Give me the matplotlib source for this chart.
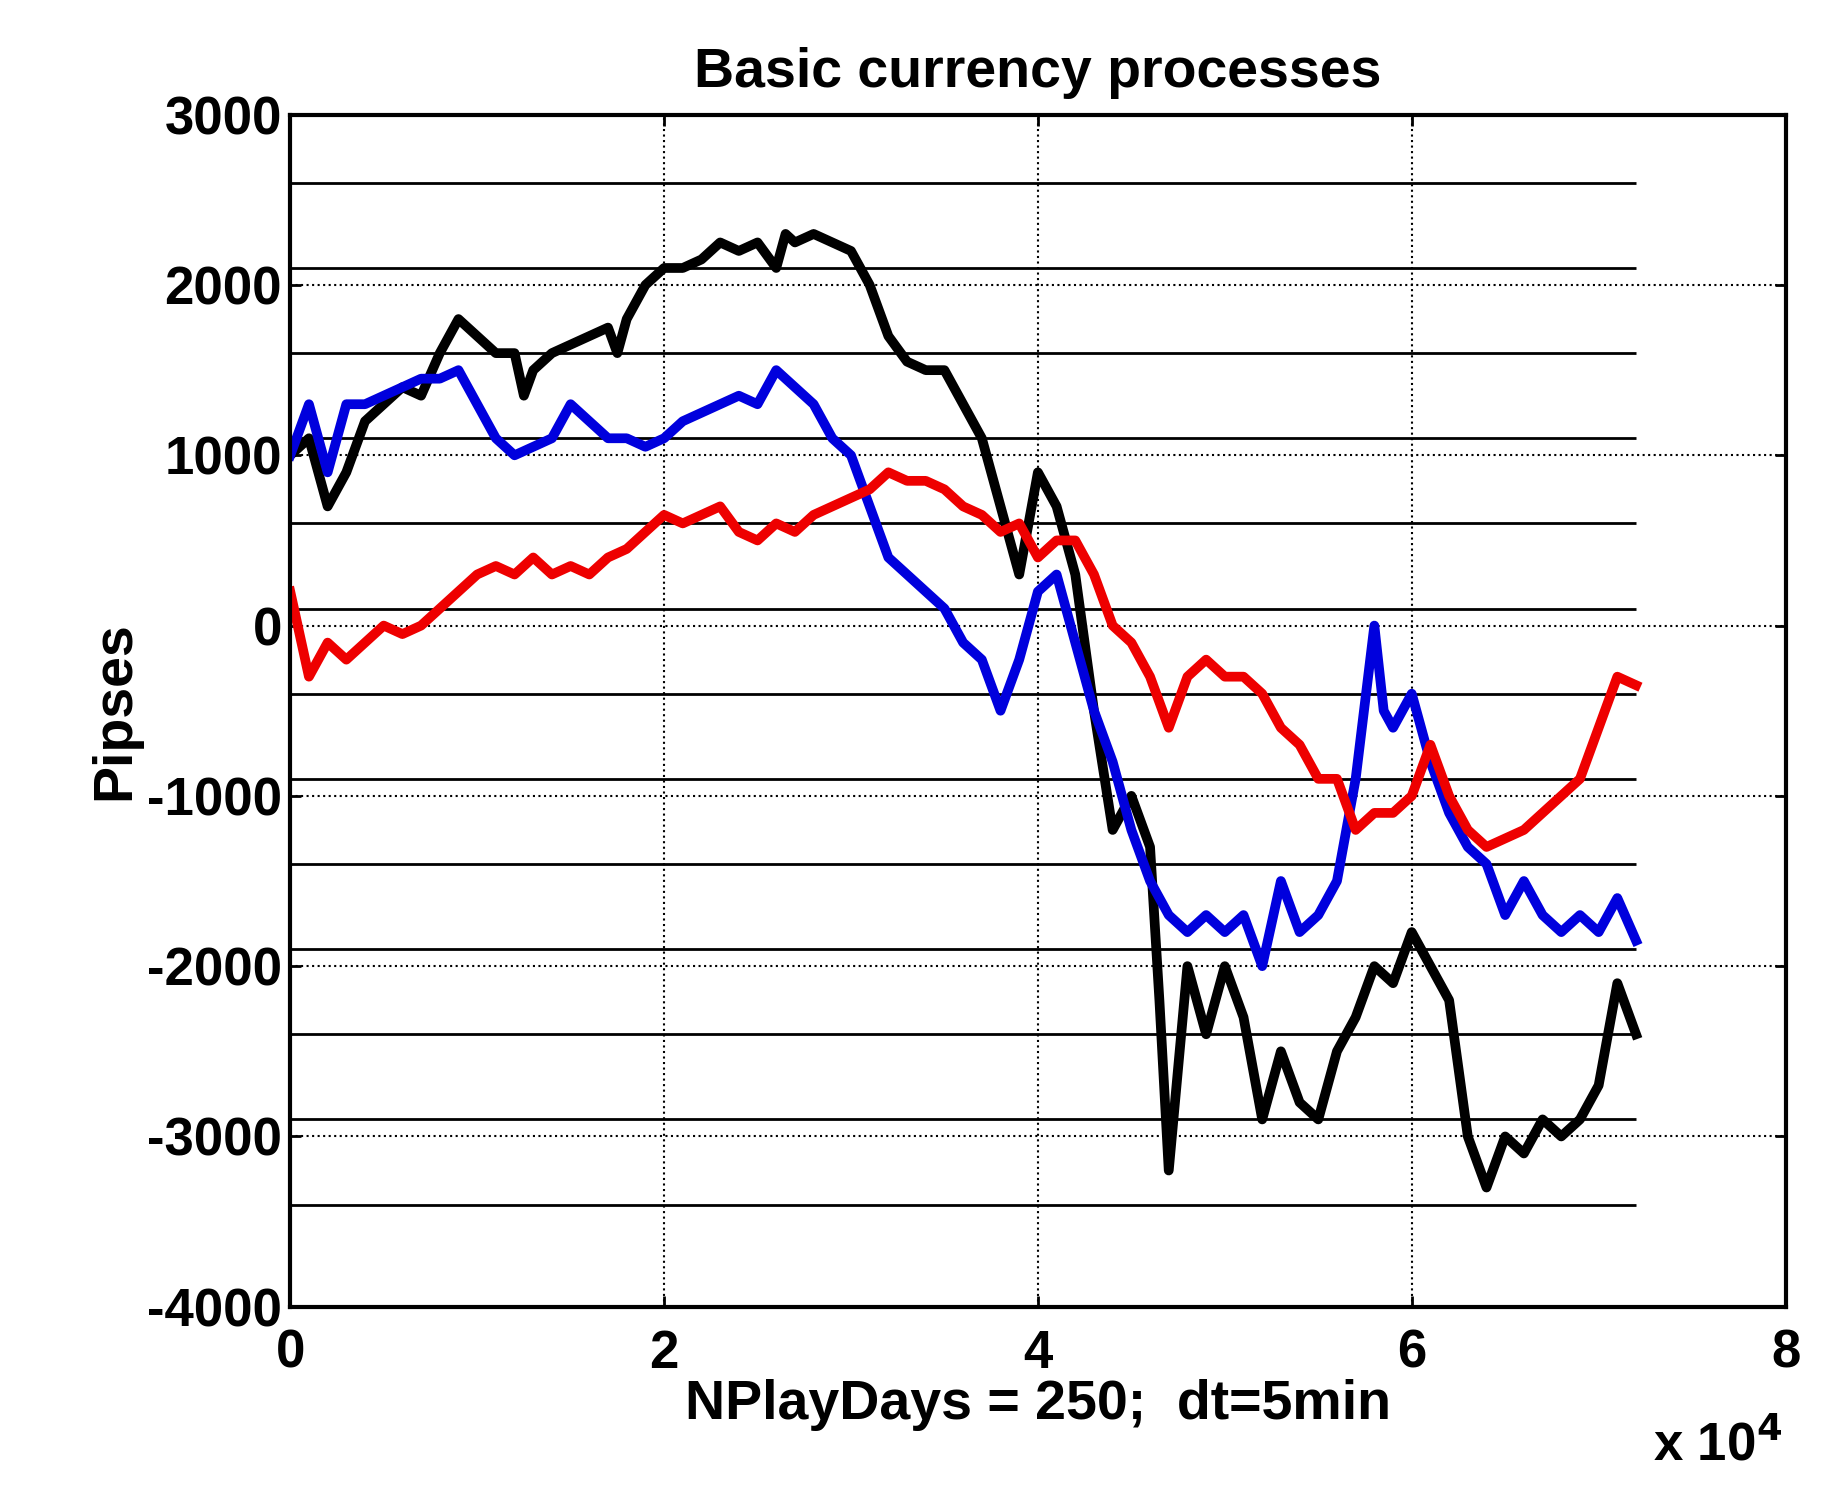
import numpy as np
import matplotlib
matplotlib.use('Agg')
import matplotlib.pyplot as plt

plt.rcParams['font.family'] = ['Liberation Sans', 'DejaVu Sans']
plt.rcParams['font.weight'] = 'bold'
plt.rcParams['axes.unicode_minus'] = False

# ============================================================
# Data
# ============================================================
x_black = [0, 1000, 2000, 3000, 4000, 5000, 6000, 7000, 8000, 9000, 10000, 11000, 12000, 12500,
           13000, 14000, 15000, 16000, 17000, 17500, 18000, 19000, 20000, 21000, 22000, 23000,
           24000, 25000, 26000, 26500, 27000, 28000, 29000, 30000, 31000, 32000, 33000, 34000,
           35000, 36000, 37000, 38000, 39000, 40000, 41000, 42000, 43000, 44000, 45000, 46000,
           46500, 47000, 48000, 49000, 50000, 51000, 52000, 53000, 54000, 55000, 56000, 57000,
           58000, 59000, 60000, 61000, 62000, 63000, 64000, 65000, 66000, 67000, 68000, 69000,
           70000, 71000, 72000]
y_black = [1000, 1100, 700, 900, 1200, 1300, 1400, 1350, 1600, 1800, 1700, 1600, 1600, 1350,
           1500, 1600, 1650, 1700, 1750, 1600, 1800, 2000, 2100, 2100, 2150, 2250,
           2200, 2250, 2100, 2300, 2250, 2300, 2250, 2200, 2000, 1700, 1550, 1500,
           1500, 1300, 1100, 700, 300, 900, 700, 300, -500, -1200, -1000, -1300,
           -2200, -3200, -2000, -2400, -2000, -2300, -2900, -2500, -2800, -2900, -2500, -2300,
           -2000, -2100, -1800, -2000, -2200, -3000, -3300, -3000, -3100, -2900, -3000, -2900,
           -2700, -2100, -2400]

x_blue = [0, 1000, 2000, 3000, 4000, 5000, 6000, 7000, 8000, 9000, 10000, 11000, 12000, 13000,
          14000, 15000, 16000, 17000, 18000, 19000, 20000, 21000, 22000, 23000, 24000, 25000,
          26000, 27000, 28000, 29000, 30000, 31000, 32000, 33000, 34000, 35000, 36000, 37000,
          38000, 39000, 40000, 41000, 42000, 43000, 44000, 45000, 46000, 47000, 48000, 49000,
          50000, 51000, 52000, 53000, 54000, 55000, 56000, 57000, 58000, 58500, 59000, 60000,
          61000, 62000, 63000, 64000, 65000, 66000, 67000, 68000, 69000, 70000, 71000, 72000]
y_blue = [1000, 1300, 900, 1300, 1300, 1350, 1400, 1450, 1450, 1500, 1300, 1100, 1000, 1050,
          1100, 1300, 1200, 1100, 1100, 1050, 1100, 1200, 1250, 1300, 1350, 1300,
          1500, 1400, 1300, 1100, 1000, 700, 400, 300, 200, 100, -100, -200,
          -500, -200, 200, 300, -100, -500, -800, -1200, -1500, -1700, -1800, -1700,
          -1800, -1700, -2000, -1500, -1800, -1700, -1500, -900, 0, -500, -600, -400,
          -800, -1100, -1300, -1400, -1700, -1500, -1700, -1800, -1700, -1800, -1600, -1850]

x_red = list(range(0, 73000, 1000))
y_red = [200, -300, -100, -200, -100, 0, -50, 0, 100, 200, 300, 350, 300, 400, 300, 350, 300,
         400, 450, 550, 650, 600, 650, 700, 550, 500, 600, 550, 650, 700, 750, 800, 900, 850,
         850, 800, 700, 650, 550, 600, 400, 500, 500, 300, 0, -100, -300, -600, -300, -200,
         -300, -300, -400, -600, -700, -900, -900, -1200, -1100, -1100, -1000, -700, -1000,
         -1200, -1300, -1250, -1200, -1100, -1000, -900, -600, -300, -350]

level_lines = [2600, 2100, 1600, 1100, 600, 100, -400, -900, -1400, -1900, -2400, -2900, -3400]
level_xmax = 72000

# ============================================================
# Plot
# ============================================================
fig = plt.figure(figsize=(18.37, 14.9), dpi=100)
ax = fig.add_axes([0.158, 0.123, 0.814, 0.80])

ax.hlines(level_lines, 0, level_xmax, colors='k', linewidth=2)
ax.plot(x_black, y_black, color='k', linewidth=7)
ax.plot(x_blue, y_blue, color='#0000dd', linewidth=7)
ax.plot(x_red, y_red, color='#ee0000', linewidth=7)

ax.set_xlim(0, 80000)
ax.set_ylim(-4000, 3000)
ax.set_xticks(np.arange(0, 80001, 20000))
ax.set_xticklabels(['0', '2', '4', '6', '8'])
ax.set_yticks(np.arange(-4000, 3001, 1000))
ax.grid(True, linestyle=':', color='k', linewidth=1.5)
ax.tick_params(labelsize=38, width=2, length=8, direction='in', top=True, right=True)
ax.tick_params(axis='x', pad=16)
ax.tick_params(axis='y', pad=6)
for s in ax.spines.values():
    s.set_linewidth(3)

ax.set_title('Basic currency processes', fontsize=40, fontweight='bold', pad=20)
ax.set_xlabel('NPlayDays = 250;  dt=5min', fontsize=40, fontweight='bold', labelpad=0)
ax.set_ylabel('Pipses', fontsize=40, fontweight='bold', labelpad=4)
fig.text(0.97, 0.02, r'x 10$^{4}$', fontsize=38, fontweight='bold', ha='right')

fig.savefig('out.png', dpi=100)
